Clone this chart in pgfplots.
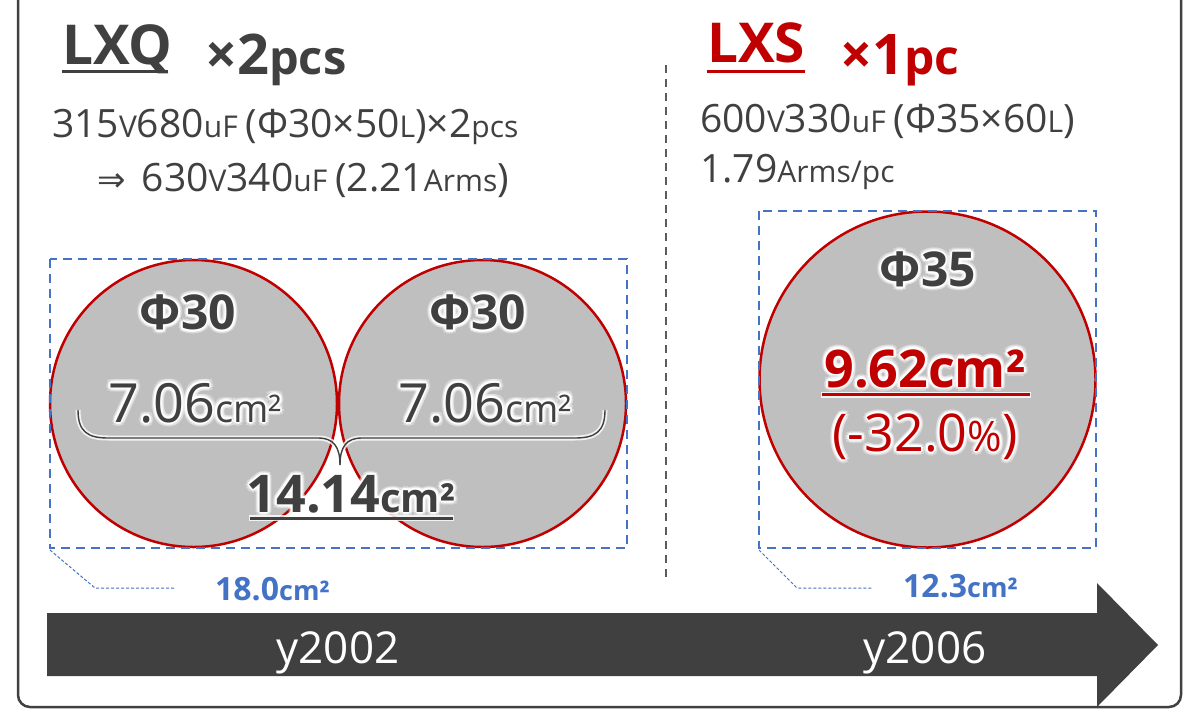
\documentclass[border=0pt]{standalone}
\usepackage{fontspec}
\setmainfont{Open Sans}
\newfontfamily\dejavu{DejaVu Sans}
\usepackage{pgfplots}
\pgfplotsset{compat=1.18}
\definecolor{dg}{HTML}{404040}
\definecolor{rd}{HTML}{C00000}
\definecolor{bl}{HTML}{4472C4}
\definecolor{cf}{HTML}{BFBFBF}
\newcommand\fs[1]{\fontsize{#1}{#1}\selectfont}
\newcommand\glow[3]{%
\node[#2,text=white,opacity=0.35,xshift=4pt] at (#1) {#3};
\node[#2,text=white,opacity=0.35,xshift=-4pt] at (#1) {#3};
\node[#2,text=white,opacity=0.35,yshift=4pt] at (#1) {#3};
\node[#2,text=white,opacity=0.35,yshift=-4pt] at (#1) {#3};
\node[#2,text=white,opacity=0.35,xshift=3pt,yshift=3pt] at (#1) {#3};
\node[#2,text=white,opacity=0.35,xshift=-3pt,yshift=3pt] at (#1) {#3};
\node[#2,text=white,opacity=0.35,xshift=3pt,yshift=-3pt] at (#1) {#3};
\node[#2,text=white,opacity=0.35,xshift=-3pt,yshift=-3pt] at (#1) {#3};
\node[#2,text=white,opacity=0.8,xshift=2pt] at (#1) {#3};
\node[#2,text=white,opacity=0.8,xshift=-2pt] at (#1) {#3};
\node[#2,text=white,opacity=0.8,yshift=2pt] at (#1) {#3};
\node[#2,text=white,opacity=0.8,yshift=-2pt] at (#1) {#3};
\node[#2,text=white,opacity=0.8,xshift=1.5pt,yshift=1.5pt] at (#1) {#3};
\node[#2,text=white,opacity=0.8,xshift=-1.5pt,yshift=1.5pt] at (#1) {#3};
\node[#2,text=white,opacity=0.8,xshift=1.5pt,yshift=-1.5pt] at (#1) {#3};
\node[#2,text=white,opacity=0.8,xshift=-1.5pt,yshift=-1.5pt] at (#1) {#3};
\node[#2] at (#1) {#3};}
\begin{document}
\begin{tikzpicture}
\path[use as bounding box] (0,0) rectangle (1190pt,710pt);
\begin{axis}[at={(0,0)},anchor=south west,scale only axis,width=1190pt,height=710pt,
  xmin=0,xmax=1190,ymin=0,ymax=710,y dir=reverse,hide axis,clip=false]
% outer frame
\draw[dg,line width=2.5pt,rounded corners=12pt] (axis cs:18,-40) rectangle (axis cs:1181,707);
% dashed separator
\draw[dg!85,line width=2pt,dash pattern=on 8pt off 6pt] (axis cs:666,65) -- (axis cs:666,582);
% leaders
\draw[bl,line width=1pt,dash pattern=on 3pt off 2pt] (axis cs:50,550) -- (axis cs:95,588) -- (axis cs:175,588);
\draw[bl,line width=1pt,dash pattern=on 3pt off 2pt] (axis cs:759,550) -- (axis cs:797,588) -- (axis cs:872,588);
% arrow
\fill[dg] (axis cs:47,613) -- (axis cs:1097,613) -- (axis cs:1097,583) -- (axis cs:1158,645) -- (axis cs:1097,707) -- (axis cs:1097,676) -- (axis cs:47,676) -- cycle;
% capacitor cross sections
\addplot[only marks,mark=*,mark size=143.5pt,mark options={fill=cf,draw=rd,line width=2.5pt}] coordinates {(193.5,403.5) (482.5,403.5)};
\addplot[only marks,mark=*,mark size=168pt,mark options={fill=cf,draw=rd,line width=2.5pt}] coordinates {(927.5,379.5)};
\end{axis}
\begin{scope}[x=1pt,y=-1pt,shift={(0pt,710pt)}]
% footprint boxes
\draw[bl,line width=2.2pt,dash pattern=on 9pt off 6pt] (50,259) rectangle (627,548);
\draw[bl,line width=2.2pt,dash pattern=on 9pt off 6pt] (759,211) rectangle (1096,548);
\node[anchor=base,text=white] at (338,663) {\fs{44}y2002};
\node[anchor=base,text=white] at (925,663) {\fs{44}y2006};
% headers
\node[anchor=base west,text=dg,inner sep=0pt] at (62,65) {\fs{55}\bfseries LXQ};
\draw[dg,line width=3pt] (62,72) -- (168,72);
\node[anchor=base west,text=dg,inner sep=0pt] at (205,75) {\bfseries\fs{56}×2\fs{47}pcs};
\node[anchor=base west,text=rd,inner sep=0pt] at (707,63) {\fs{55}\bfseries LXS};
\draw[rd,line width=3pt] (707,72) -- (805,72);
\node[anchor=base west,text=rd,inner sep=0pt] at (840,75) {\bfseries\fs{56}×1\fs{48}pc};
% specs
\node[anchor=base west,text=dg,inner sep=0pt] at (52,138) {\fs{39}315\fs{30}V\fs{39}680\fs{30}uF \fs{39}(Φ30×50\fs{30}L\fs{39})×2\fs{30}pcs};
\node[anchor=base west,text=dg,inner sep=0pt] at (97,192) {{\dejavu\fs{34}⇒}\fs{39}\hspace{6pt} 630\fs{30}V\fs{39}340\fs{30}uF \fs{39}(2.21\fs{30}Arms\fs{39})};
\node[anchor=base west,text=dg,inner sep=0pt] at (700,133) {\fs{39}600\fs{30}V\fs{39}330\fs{30}uF \fs{39}(Φ35×60\fs{30}L\fs{39})};
\node[anchor=base west,text=dg,inner sep=0pt] at (700,183) {\fs{39}1.79\fs{30}Arms/pc};
% brace
\draw[white,opacity=0.8,line width=5pt] (78,410) .. controls (78,432) and (88,438) .. (108,438) -- (318,438) .. controls (333,438) and (340,446) .. (340,465);
\draw[white,opacity=0.8,line width=5pt] (605,410) .. controls (605,432) and (595,438) .. (575,438) -- (362,438) .. controls (347,438) and (340,446) .. (340,465);
\draw[dg,line width=1.4pt] (78,410) .. controls (78,432) and (88,438) .. (108,438) -- (318,438) .. controls (333,438) and (340,446) .. (340,465);
\draw[dg,line width=1.4pt] (605,410) .. controls (605,432) and (595,438) .. (575,438) -- (362,438) .. controls (347,438) and (340,446) .. (340,465);
% labels in circles
\glow{188,330}{anchor=base,text=dg,inner sep=0pt}{\fs{48}\bfseries Φ30}
\glow{478,330}{anchor=base,text=dg,inner sep=0pt}{\fs{48}\bfseries Φ30}
\glow{195,422}{anchor=base,text=dg,inner sep=0pt}{\fs{54}7.06\fs{38}cm²}
\glow{485,422}{anchor=base,text=dg,inner sep=0pt}{\fs{54}7.06\fs{38}cm²}
\draw[white,opacity=0.8,line width=6pt] (249,518) -- (454,518);
\draw[dg,line width=3pt] (250,518) -- (453,518);
\glow{351,512}{anchor=base,text=dg,inner sep=0pt}{\bfseries\fs{52}14.14\fs{40}cm²}
\glow{928,287}{anchor=base,text=dg,inner sep=0pt}{\fs{48}\bfseries Φ35}
\draw[white,opacity=0.8,line width=6pt] (821,395) -- (1031,395);
\draw[rd,line width=3pt] (822,395) -- (1030,395);
\glow{925,387}{anchor=base,text=rd,inner sep=0pt}{\bfseries\fs{52}9.62cm²}
\glow{925,451}{anchor=base,text=rd,inner sep=0pt}{\fs{52}(-32.0\fs{42}\%\fs{52})}
% footprint areas
\node[anchor=base west,text=bl,inner sep=0pt] at (215,600) {\bfseries\fs{32}18.0\fs{27}cm²};
\node[anchor=base west,text=bl,inner sep=0pt] at (903,597) {\bfseries\fs{32}12.3\fs{27}cm²};
\end{scope}
\end{tikzpicture}
\end{document}
